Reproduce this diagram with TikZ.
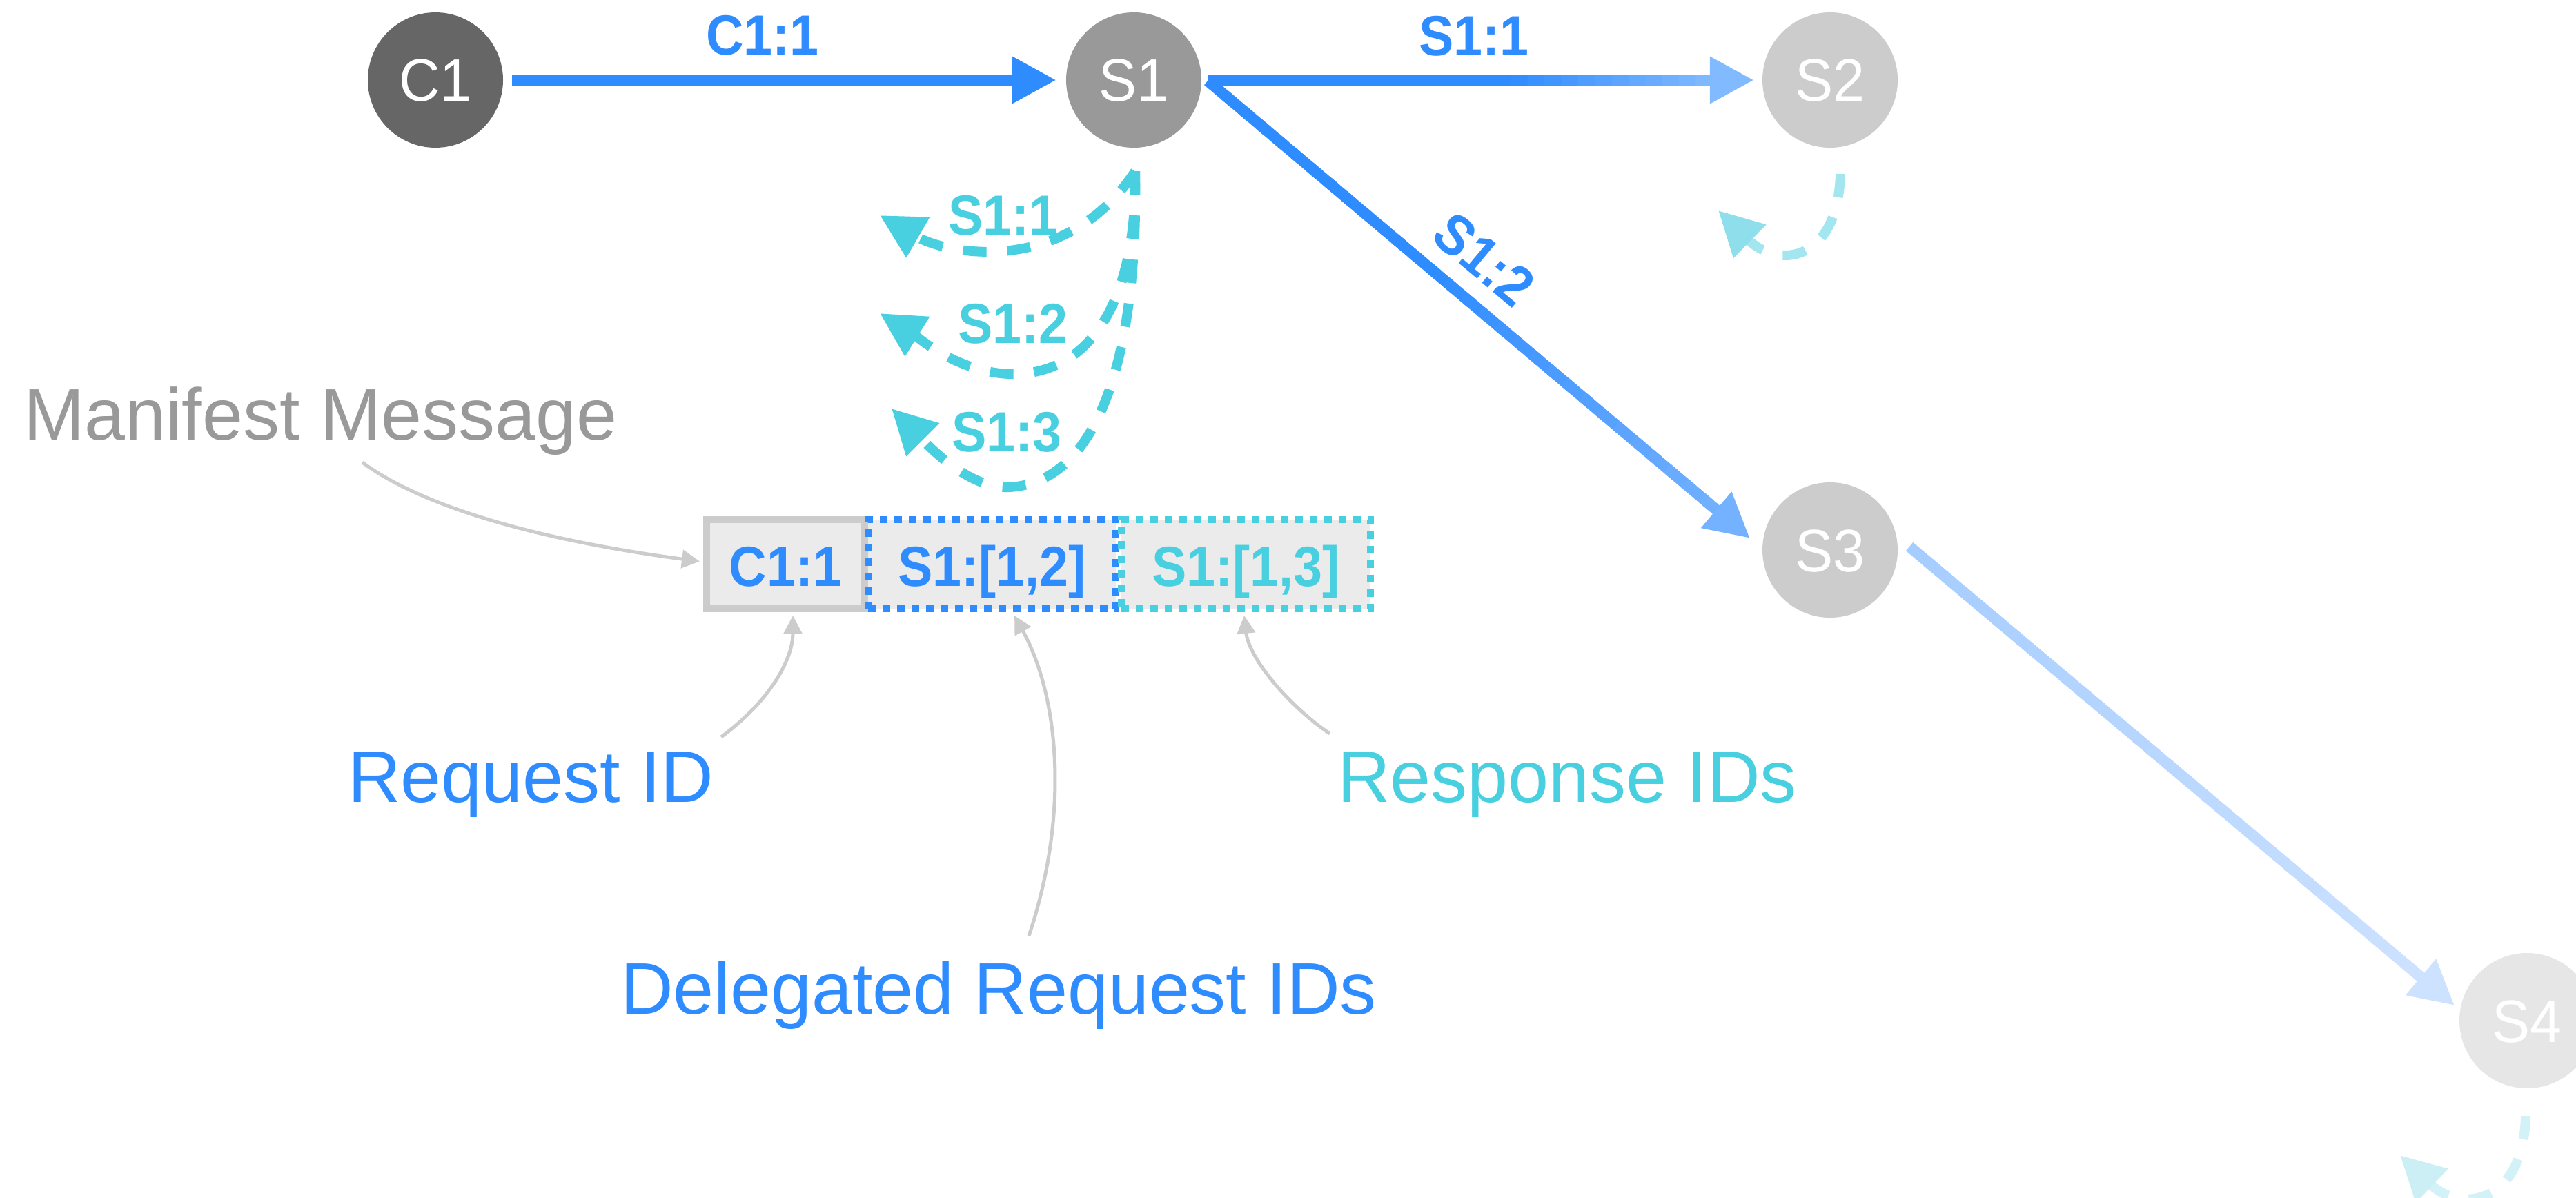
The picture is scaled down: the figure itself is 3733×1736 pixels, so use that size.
\documentclass[tikz,border=0pt]{standalone}
\usepackage{fontspec}
\setmainfont{Liberation Sans}
\newfontfamily\idfamily[FakeStretch=0.92]{Liberation Sans}
\newfontfamily\hostfamily[FakeStretch=0.95]{Liberation Sans}
\usetikzlibrary{arrows.meta,calc}

% palette
\definecolor{reqblue}{HTML}{2F8CFF}
\definecolor{respcyan}{HTML}{48CFE0}
\definecolor{clientgray}{HTML}{666666}
\definecolor{servergray}{HTML}{999999}
\definecolor{farserver}{HTML}{CCCCCC}
\definecolor{lastserver}{HTML}{E6E6E6}
\definecolor{notegray}{HTML}{CCCCCC}
\definecolor{labelgray}{HTML}{999999}
\definecolor{cellfill}{HTML}{EBEBEB}
\definecolor{fadeblueA}{HTML}{82BAFF}
\definecolor{fadeblueB}{HTML}{74B1FF}
\definecolor{paleblueA}{HTML}{A6CDFF}
\definecolor{paleblueB}{HTML}{CDE2FF}
\definecolor{palecyanA}{HTML}{A4E6F0}
\definecolor{palecyanAh}{HTML}{8EDFEB}
\definecolor{palecyanB}{HTML}{D2F2F7}
\definecolor{palecyanBh}{HTML}{CBEFF5}

\newcommand\hostfont{\hostfamily\fontsize{87}{100}\selectfont}
\newcommand\idfont{\idfamily\fontsize{82}{96}\selectfont\bfseries}
\newcommand\notefont{\fontsize{106}{120}\selectfont}

\tikzset{
  host/.style={circle, inner sep=0pt, minimum size=196pt, text=white,
    font=\hostfont, text height=62pt, text depth=0pt},
  msg/.style={-{Triangle[length=64pt,width=64pt]}, line width=16pt, draw=reqblue},
  reply/.style={-{Triangle[length=64pt,width=64pt]}, line width=14pt,
    dash pattern=on 34pt off 30pt},
  idlabel/.style={font=\idfont, inner sep=0pt, anchor=base},
  cell/.style={rectangle, inner sep=0pt, minimum height=129pt, fill=cellfill,
    line width=10pt, font=\idfont, text height=63pt, text depth=0pt},
  dotted cell/.style={cell, dash pattern=on 11pt off 10pt},
  note/.style={font=\notefont, inner sep=0pt, anchor=base west},
  pointer/.style={-{Triangle[length=26pt,width=26pt]}, line width=5pt, draw=notegray},
}

% straight arrow whose colour fades from #3 to #4, starting at fraction #5
\newcommand\fadearrow[5]{%
  \coordinate (fadeend) at ($(#2)!60pt!(#1)$);
  \foreach \k in {1,...,30}{%
    \pgfmathsetmacro\ta{(\k-1)/30}%
    \pgfmathsetmacro\tb{min(1,(\k+0.5)/30)}%
    \pgfmathtruncatemacro\mix{max(0,min(100,100*((\k-0.5)/30-#5)/(1-#5)))}%
    \draw[line width=16pt, draw=#4!\mix!#3] ($(#1)!\ta!(fadeend)$) -- ($(#1)!\tb!(fadeend)$);
  }%
  \draw[line width=16pt, draw=#4, fill=#4, -{Triangle[length=64pt,width=64pt]}] (fadeend) -- (#2);
}

\begin{document}
\begin{tikzpicture}[x=1pt, y=-1pt]
  \useasboundingbox (0,0) rectangle (3733,1736);
  \clip (0,0) rectangle (3733,1736);
  \fill[white] (0,0) rectangle (3733,1736);

  % hosts
  \node[host, fill=clientgray] (c1) at (631,116) {C1};
  \node[host, fill=servergray] (s1) at (1643,116) {S1};
  \node[host, fill=farserver] (s2) at (2652,116) {S2};
  \node[host, fill=farserver] (s3) at (2652,797) {S3};
  \node[host, fill=lastserver] (s4) at (3662,1479) {S4};

  % connector end points
  \coordinate (c1out) at ($(c1.east)+(13,0)$);
  \coordinate (s1in) at ($(s1.west)+(-14,0)$);
  \coordinate (s1out) at ($(s1.east)+(9,1)$);
  \coordinate (s2in) at ($(s2.west)+(-12,0)$);
  \coordinate (s3in) at ($(s3.center)+(-116,-17)$);
  \coordinate (s3out) at ($(s3.center)+(115,-5)$);
  \coordinate (s4in) at ($(s4.center)+(-105,-22)$);

  % requests
  \draw[msg] (c1out) -- (s1in);
  \node[idlabel, text=reqblue] (lc1) at (1105,80) {C1:1};

  \fadearrow{s1out}{s3in}{reqblue}{fadeblueB}{0.45}
  \fadearrow{s1out}{s2in}{reqblue}{fadeblueA}{0.6}
  \fadearrow{s3out}{s4in}{paleblueA}{paleblueB}{0}
  \node[idlabel, text=reqblue] (ls11) at (2136,81) {S1:1};
  \node[font=\idfont, text=reqblue, inner sep=0pt, rotate=-40] (ls12) at (2151,376) {S1:2};

  % responses returned by S1
  \coordinate (s1loop) at ($(s1.south)+(2,34)$);
  \coordinate (r11) at (1275,312);
  \coordinate (r12) at (1275,454);
  \coordinate (r13) at (1292,592);
  \draw[reply, draw=respcyan] (s1loop) .. controls (1545,400) and (1375,370) .. (r11);
  \draw[reply, draw=respcyan] (s1loop) .. controls (1648,420) and (1590,540) .. (1470,542)
     .. controls (1390,543) and (1325,485) .. (r12);
  \draw[reply, draw=respcyan] (s1loop) .. controls (1650,520) and (1590,700) .. (1462,706)
     .. controls (1400,709) and (1335,635) .. (r13);
  \node[idlabel, text=respcyan] (lr11) at (1454,340) {S1:1};
  \node[idlabel, text=respcyan] (lr12) at (1468,497) {S1:2};
  \node[idlabel, text=respcyan] (lr13) at (1459,654) {S1:3};

  % responses returned by S2 and S4
  \coordinate (s2loop) at ($(s2.center)+(15,136)$);
  \coordinate (s2back) at ($(s2.center)+(-162,189)$);
  \draw[reply, draw=palecyanA, -{Triangle[length=64pt,width=64pt,color=palecyanAh]}]
     (s2loop) .. controls +(-4,128) and +(87,85) .. (s2back);
  \coordinate (s4loop) at ($(s4.center)+(-2,138)$);
  \coordinate (s4back) at ($(s4.center)+(-184,195)$);
  \draw[reply, draw=palecyanB, -{Triangle[length=64pt,width=64pt,color=palecyanBh]}]
     (s4loop) .. controls +(-3,127) and +(89,85) .. (s4back);

  % manifest message
  \node[cell, draw=notegray, minimum width=229pt, text=reqblue] (idreq) at (1138.5,817.5) {C1:1};
  \node[dotted cell, draw=reqblue, minimum width=359pt, text=reqblue] (iddel) at (1437.5,817.5) {S1:[1,2]};
  \node[dotted cell, draw=respcyan, minimum width=361pt, text=respcyan] (idresp) at (1805.5,817.5) {S1:[1,3]};

  % annotations
  \node[note, text=labelgray] (manifest) at (34,637) {Manifest Message};
  \node[note, text=reqblue] (reqnote) at (504,1162) {Request ID};
  \node[note, text=reqblue] (delnote) at (899,1469) {Delegated Request IDs};
  \node[note, text=respcyan] (respnote) at (1938,1162) {Response IDs};

  \coordinate (mantail) at (525,670);
  \coordinate (reqtail) at (1045,1068);
  \coordinate (deltail) at (1491,1356);
  \coordinate (resptail) at (1927,1063);
  \draw[pointer] (mantail) .. controls (620,740) and (800,785) .. ($(idreq.west)+(-5,-4)$);
  \draw[pointer] (reqtail) .. controls (1110,1020) and (1149,960) .. ($(idreq.south)+(10.5,5)$);
  \draw[pointer] (deltail) .. controls (1550,1180) and (1535,1010) .. ($(iddel.south)+(32.5,5)$);
  \draw[pointer] (resptail) .. controls (1870,1025) and (1810,955) .. ($(idresp.south)+(-2.5,5)$);
\end{tikzpicture}
\end{document}
